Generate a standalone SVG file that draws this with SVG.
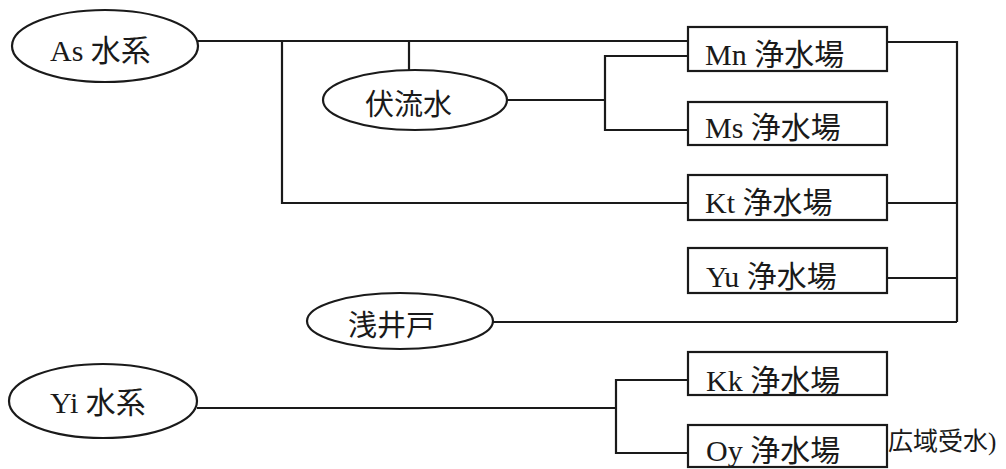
<svg xmlns="http://www.w3.org/2000/svg" width="1006" height="469" viewBox="0 0 1006 469">
<style>
.n{fill:#fff;stroke:#1a1a1a;stroke-width:2.2}
.c{fill:none;stroke:#1a1a1a;stroke-width:2.2}
text{font-family:"Liberation Serif","Noto Sans CJK JP",serif;font-size:30px;fill:#1a1a1a}
.j{font-size:29px}
.s{font-size:25px}
</style>
<rect width="1006" height="469" fill="#fff"/>
<g id="connectors">
<path class="c" d="M198,41H688"/>
<path class="c" d="M282,41V203H688"/>
<path class="c" d="M409,41V70"/>
<path class="c" d="M507,100H605"/>
<path class="c" d="M688,56H605V130H688"/>
<path class="c" d="M887,42H957V322"/>
<path class="c" d="M887,203H957"/>
<path class="c" d="M887,278H957"/>
<path class="c" d="M492,322H957"/>
<path class="c" d="M197,408H616"/>
<path class="c" d="M688,380H616V453H688"/>
</g>
<g id="as"><ellipse class="n" cx="105" cy="46" rx="93" ry="36"/><text x="50" y="61">As 水系</text></g>
<g id="fukuryusui"><ellipse class="n" cx="415" cy="100" rx="92" ry="30"/><text class="j" x="365" y="115">伏流水</text></g>
<g id="asaido"><ellipse class="n" cx="400" cy="321" rx="93" ry="28"/><text class="j" x="348" y="336">浅井戸</text></g>
<g id="yi"><ellipse class="n" cx="103" cy="401" rx="94" ry="37"/><text x="50" y="413">Yi 水系</text></g>
<g id="mn"><rect class="n" x="688" y="27" width="199" height="44"/><text x="705" y="65">Mn 浄水場</text></g>
<g id="ms"><rect class="n" x="688" y="102" width="199" height="43"/><text x="705" y="138">Ms 浄水場</text></g>
<g id="kt"><rect class="n" x="688" y="175" width="199" height="45"/><text x="705" y="213">Kt 浄水場</text></g>
<g id="yu"><rect class="n" x="688" y="248" width="199" height="45"/><text x="706" y="287">Yu 浄水場</text></g>
<g id="kk"><rect class="n" x="688" y="352" width="199" height="43"/><text x="706" y="391">Kk 浄水場</text></g>
<g id="oy"><rect class="n" x="688" y="425" width="199" height="42"/><text x="706" y="461">Oy 浄水場</text></g>
<g id="note"><text class="s" x="888" y="450">広域受水)</text></g>
</svg>
